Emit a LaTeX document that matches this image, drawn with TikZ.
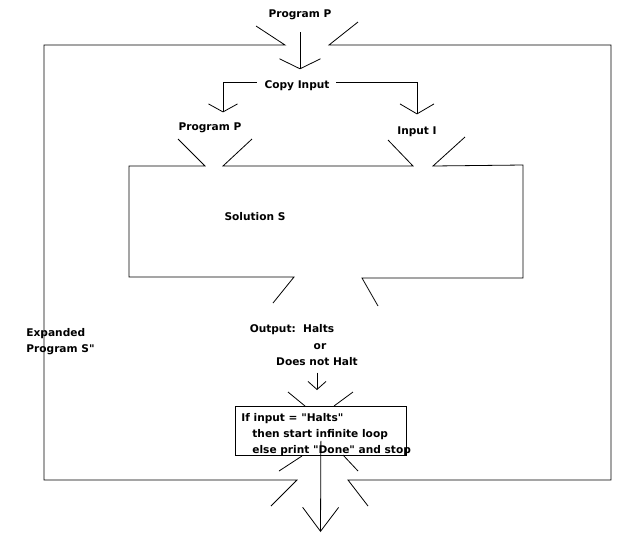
\documentclass[tikz,border=0pt]{standalone}
\usepackage{fontspec}
\setmainfont{DejaVu Sans}[Ligatures=TeXOff]
\usetikzlibrary{arrows.meta}
\tikzset{
  lbl/.style={font=\fontsize{10.6}{16}\selectfont\bfseries, inner sep=0pt, anchor=base},
  vtip/.style 2 args={-{Straight Barb[length=#1pt,width=#2pt]}}
}

\begin{document}
\begin{tikzpicture}[x=1pt,y=-1pt,line width=0.8pt]
\useasboundingbox (0,0) rectangle (640,550);
\draw (256,26) -- (285,45) -- (44,45) -- (44,480) -- (297,480) -- (271,506);
\draw (368,506) -- (348,480) -- (611,480) -- (611,45) -- (329,45) -- (358,22);
\draw (178,139) -- (205,166) -- (129,166) -- (129,277) -- (294,277) -- (273,303);
\draw (252,139) -- (223,166) -- (413,166) -- (388,140);
\draw (465,137) -- (433,166) -- (523,165) -- (523,278) -- (362,278) -- (378,306);
\draw (288,392) -- (305,406);
\draw (334,406) -- (353,392);
\draw (302,456) -- (279,471);
\draw (343,455) -- (358,471);
\node[lbl] (progtop) at (300,17) {Program P};
\node[lbl] (copy) at (297,88) {Copy Input};
\node[lbl] (progp) at (210,130) {Program P};
\node[lbl] (inputi) at (417,134) {Input I};
\node[lbl] (sol) at (255,220) {Solution S};
\node[lbl] (out1) at (292,332) {Output:\ \ Halts};
\node[lbl] (out2) at (320,349) {or};
\node[lbl] (out3) at (317,365) {Does not Halt};
\node[lbl, align=left, anchor=north west] (expanded) at (26,328.5) {Expanded\\Program S"};
\node[draw, minimum width=171pt, minimum height=49pt, anchor=north west, inner sep=0pt] (ifbox) at (235,406) {};
\node[lbl, align=left, anchor=north west] (iftext) at (241,413) {If input = "Halts"\\\hspace*{11pt}then start infinite loop\\\hspace*{11pt}else print "Done" and stop};
\coordinate (exit) at (320.5,532);
\draw[vtip={10}{41}, shorten <=12.6pt, shorten >=10.5pt] (progtop.south) -- (progtop.south |- copy.north);
\draw[vtip={8}{29}, shorten <=7.5pt, shorten >=9.5pt] ([yshift=3pt]copy.west) -| ([xshift=13pt]progp.north);
\draw[vtip={10}{34}, shorten <=6.5pt, shorten >=11.5pt] ([yshift=3pt]copy.east) -| (inputi.north);
\draw[vtip={8}{18}, shorten <=7pt, shorten >=16pt] (out3.south) -- (out3.south |- ifbox.north);
\draw[vtip={24}{36}] ([yshift=-10pt]ifbox.center) -- (exit);
\end{tikzpicture}
\end{document}
